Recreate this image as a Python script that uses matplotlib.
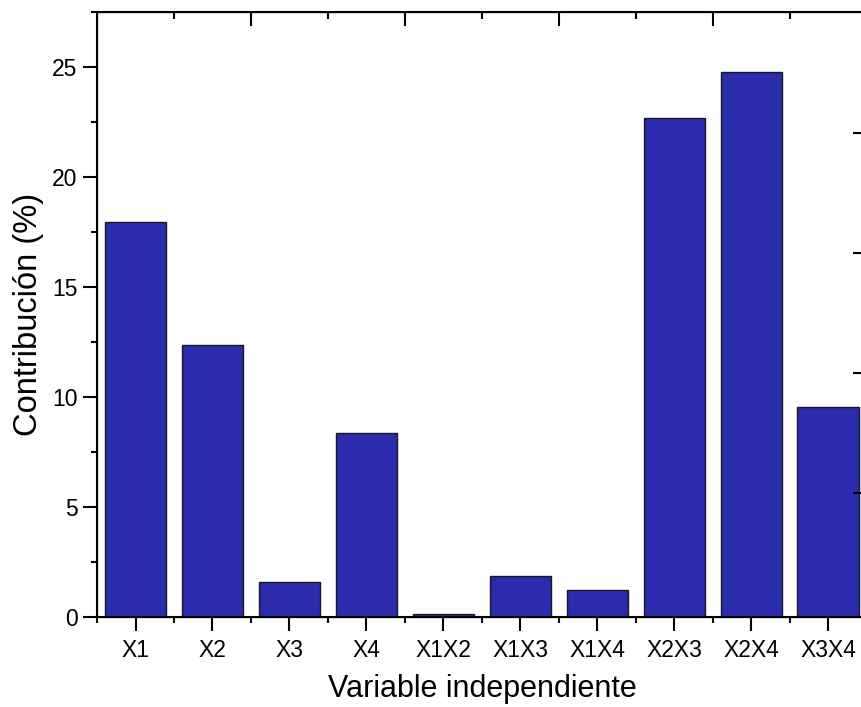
import matplotlib
matplotlib.use("Agg")
import matplotlib.pyplot as plt
from matplotlib.ticker import MultipleLocator, FixedLocator, NullFormatter

# --- Data ---
variables = ["X1", "X2", "X3", "X4", "X1X2", "X1X3", "X1X4", "X2X3", "X2X4", "X3X4"]
contribucion = [17.95, 12.33, 1.55, 8.33, 0.1, 1.85, 1.19, 22.66, 24.76, 9.54]

# tick marks of the (unlabelled) top and right axes
top_major = [1.5, 3.5, 5.5, 7.5]
top_minor = [0.5, 2.5, 4.5, 6.5, 8.5]
right_ticks = [5.64, 11.09, 16.55, 22.0]

plt.rcParams['font.family'] = ['Liberation Sans', 'DejaVu Sans']

fig = plt.figure(figsize=(8.61, 7.07), dpi=100)
ax = fig.add_axes([0.1127, 0.128, 0.894, 0.855])

x = list(range(len(variables)))
ax.bar(x, contribucion, width=0.8, color="#2B2BAE", edgecolor="#1a1a1a", linewidth=1.0, zorder=2)

ax.set_xlim(-0.5, 9.5)
ax.set_ylim(0, 27.5)
ax.set_xticks(x)
ax.set_xticklabels(variables)
ax.xaxis.set_minor_locator(FixedLocator([i + 0.5 for i in range(-1, 10)]))
ax.yaxis.set_major_locator(MultipleLocator(5))
ax.yaxis.set_minor_locator(MultipleLocator(2.5))

ax.tick_params(axis="both", which="major", direction="out", length=10, width=1.5, labelsize=16.5)
ax.tick_params(axis="both", which="minor", direction="out", length=4, width=1.5)
ax.tick_params(axis="x", pad=6)
ax.tick_params(axis="y", pad=4)
for s in ax.spines.values():
    s.set_linewidth(1.5)

ax.set_xlabel("Variable independiente", fontsize=22, labelpad=9)
ax.set_ylabel("Contribución (%)", fontsize=23.5, labelpad=6)

# top axis ticks (inward, no labels)
axt = ax.twiny()
axt.set_xlim(ax.get_xlim())
axt.xaxis.set_major_locator(FixedLocator(top_major))
axt.xaxis.set_minor_locator(FixedLocator(top_minor))
axt.xaxis.set_major_formatter(NullFormatter())
axt.tick_params(axis="x", which="major", direction="in", length=10, width=1.5)
axt.tick_params(axis="x", which="minor", direction="in", length=5, width=1.5)

# right axis ticks (inward, no labels)
axr = ax.twinx()
axr.set_ylim(ax.get_ylim())
axr.yaxis.set_major_locator(FixedLocator(right_ticks))
axr.yaxis.set_major_formatter(NullFormatter())
axr.tick_params(axis="y", which="major", direction="in", length=10, width=1.5)

fig.savefig("out.png", dpi=100)
